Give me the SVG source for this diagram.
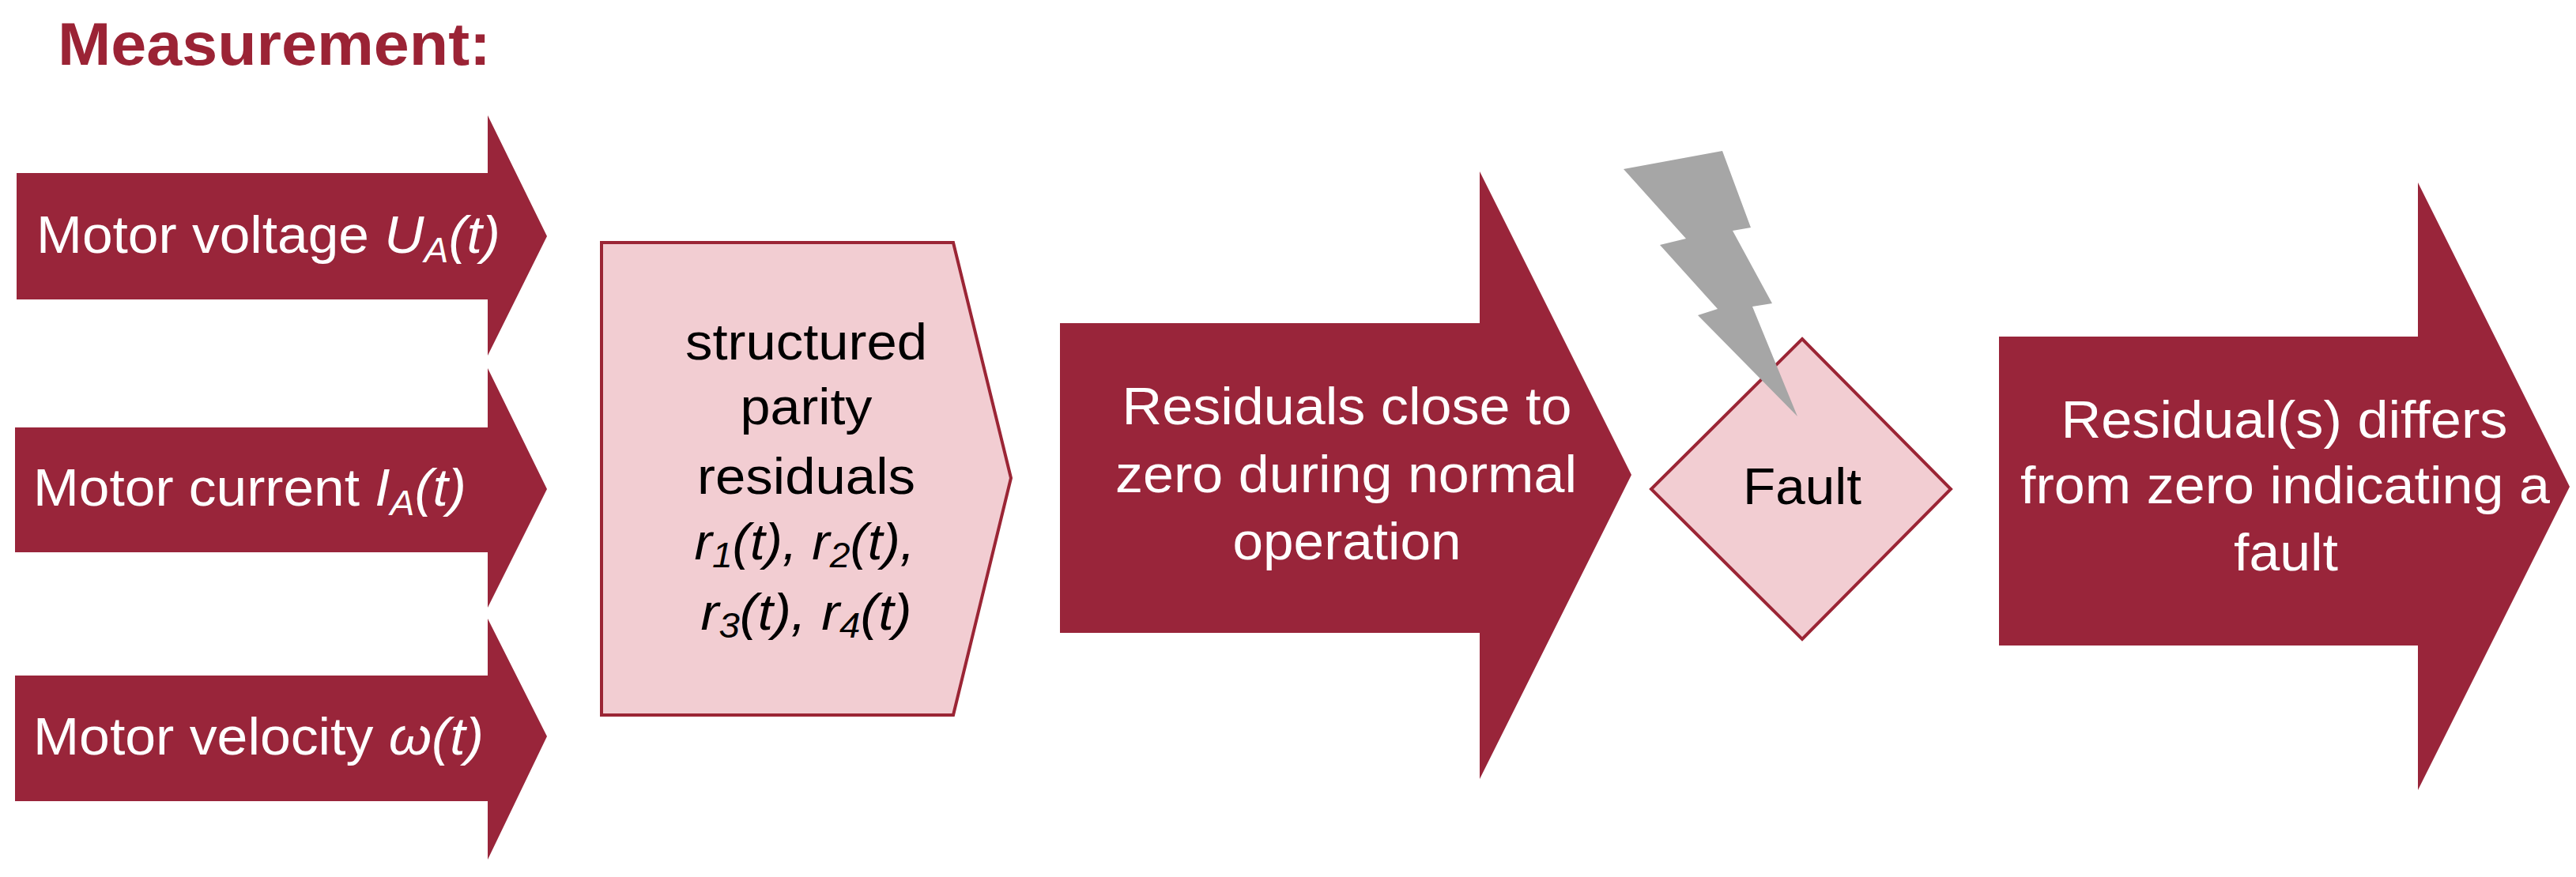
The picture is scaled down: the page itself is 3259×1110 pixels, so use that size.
<svg xmlns="http://www.w3.org/2000/svg" width="3259" height="1110" viewBox="0 0 3259 1110">
<style>
.arr{fill:#99253a}
.wt{fill:#fff;font-family:"Liberation Sans",Arial,sans-serif;font-size:66px}
.bt{fill:#000;font-family:"Liberation Sans",Arial,sans-serif;font-size:64px}
.pink{fill:#f2cdd2;stroke:#9b2535;stroke-width:4}
.i{font-style:italic}
</style>
<rect width="3259" height="1110" fill="#fff"/>
<text x="73" y="82" font-family="Liberation Sans,Arial,sans-serif" font-weight="bold" font-size="76" fill="#9b2335" textLength="548" lengthAdjust="spacingAndGlyphs">Measurement:</text>
<g id="in1"><polygon class="arr" points="21,219 617,219 617,146 692,299 617,450 617,379 21,379"/>
<text class="wt" x="46" y="320" textLength="587" lengthAdjust="spacingAndGlyphs">Motor voltage <tspan class="i">U</tspan><tspan class="i" font-size="44" dy="12">A</tspan><tspan class="i" dy="-12">(t)</tspan></text></g>
<g id="in2"><polygon class="arr" points="19,541 617,541 617,466 692,619 617,769 617,699 19,699"/>
<text class="wt" x="42" y="640" textLength="548" lengthAdjust="spacingAndGlyphs">Motor current <tspan class="i">I</tspan><tspan class="i" font-size="44" dy="12">A</tspan><tspan class="i" dy="-12">(t)</tspan></text></g>
<g id="in3"><polygon class="arr" points="19,855 617,855 617,783 692,932 617,1088 617,1014 19,1014"/>
<text class="wt" x="42" y="955" textLength="570" lengthAdjust="spacingAndGlyphs">Motor velocity <tspan class="i">ω(t)</tspan></text></g>
<g id="parity"><polygon class="pink" points="761,307 1206,307 1279,605 1206,905 761,905"/>
<g class="bt" text-anchor="middle">
<text x="1020" y="455" textLength="306" lengthAdjust="spacingAndGlyphs">structured</text>
<text x="1020" y="537" textLength="167" lengthAdjust="spacingAndGlyphs">parity</text>
<text x="1020" y="625" textLength="276" lengthAdjust="spacingAndGlyphs">residuals</text>
<text x="1018" y="708" class="i" textLength="279" lengthAdjust="spacingAndGlyphs">r<tspan font-size="44" dy="10">1</tspan><tspan dy="-10">(t), r</tspan><tspan font-size="44" dy="10">2</tspan><tspan dy="-10">(t),</tspan></text>
<text x="1020" y="797" class="i" textLength="267" lengthAdjust="spacingAndGlyphs">r<tspan font-size="44" dy="10">3</tspan><tspan dy="-10">(t), r</tspan><tspan font-size="44" dy="10">4</tspan><tspan dy="-10">(t)</tspan></text>
</g></g>
<g id="normal"><polygon class="arr" points="1341,409 1872,409 1872,217 2064,601 1872,986 1872,801 1341,801"/>
<g class="wt" text-anchor="middle">
<text x="1704" y="537" textLength="569" lengthAdjust="spacingAndGlyphs">Residuals close to</text>
<text x="1703" y="623" textLength="584" lengthAdjust="spacingAndGlyphs">zero during normal</text>
<text x="1704" y="708" textLength="289" lengthAdjust="spacingAndGlyphs">operation</text>
</g></g>
<g id="fault"><polygon class="pink" points="2280,429 2468,619 2280,809 2089,619"/>
<polygon fill="#a6a6a6" points="2054,214 2179,191 2215,288 2192,292 2242,384 2217,388 2274,527 2148,399 2173,391 2100,310 2133,302"/>
<text class="bt" x="2280" y="638" text-anchor="middle" textLength="150" lengthAdjust="spacingAndGlyphs">Fault</text></g>
<g id="faultres"><polygon class="arr" points="2529,426 3059,426 3059,231 3251,616 3059,1000 3059,817 2529,817"/>
<g class="wt" text-anchor="middle">
<text x="2890" y="554" textLength="565" lengthAdjust="spacingAndGlyphs">Residual(s) differs</text>
<text x="2891" y="637" textLength="670" lengthAdjust="spacingAndGlyphs">from zero indicating a</text>
<text x="2892" y="722" textLength="132" lengthAdjust="spacingAndGlyphs">fault</text>
</g></g>
<g id="connectors"/>
</svg>
